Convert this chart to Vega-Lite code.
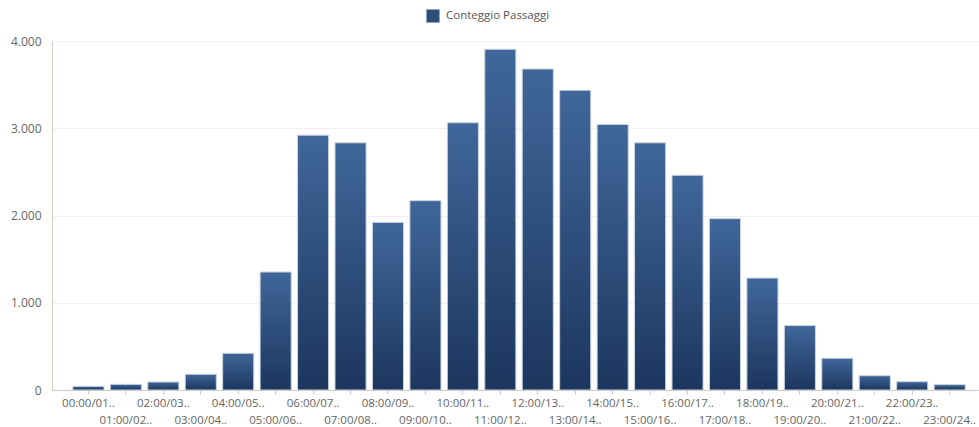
{
  "$schema": "https://vega.github.io/schema/vega-lite/v6.json",
  "autosize": "none",
  "width": 926,
  "height": 349,
  "padding": {"left": 52, "top": 41, "right": 1, "bottom": 37},
  "background": "white",
  "config": {
    "view": {"stroke": null},
    "locale": {"number": {"decimal": ",", "thousands": ".", "grouping": [3], "currency": ["€", ""]}},
    "font": "Open Sans"
  },
  "data": {
    "values": [
      {"fascia": "00:00/01:00", "passaggi": 42},
      {"fascia": "01:00/02:00", "passaggi": 65},
      {"fascia": "02:00/03:00", "passaggi": 92},
      {"fascia": "03:00/04:00", "passaggi": 180},
      {"fascia": "04:00/05:00", "passaggi": 421},
      {"fascia": "05:00/06:00", "passaggi": 1352},
      {"fascia": "06:00/07:00", "passaggi": 2920},
      {"fascia": "07:00/08:00", "passaggi": 2833},
      {"fascia": "08:00/09:00", "passaggi": 1921},
      {"fascia": "09:00/10:00", "passaggi": 2170},
      {"fascia": "10:00/11:00", "passaggi": 3063},
      {"fascia": "11:00/12:00", "passaggi": 3905},
      {"fascia": "12:00/13:00", "passaggi": 3679},
      {"fascia": "13:00/14:00", "passaggi": 3435},
      {"fascia": "14:00/15:00", "passaggi": 3043},
      {"fascia": "15:00/16:00", "passaggi": 2833},
      {"fascia": "16:00/17:00", "passaggi": 2461},
      {"fascia": "17:00/18:00", "passaggi": 1964},
      {"fascia": "18:00/19:00", "passaggi": 1283},
      {"fascia": "19:00/20:00", "passaggi": 738},
      {"fascia": "20:00/21:00", "passaggi": 364},
      {"fascia": "21:00/22:00", "passaggi": 164},
      {"fascia": "22:00/23:00", "passaggi": 95},
      {"fascia": "23:00/24:00", "passaggi": 61}
    ]
  },
  "encoding": {
    "x": {
      "field": "fascia",
      "type": "nominal",
      "sort": null,
      "title": null,
      "scale": {"paddingInner": 0.17, "paddingOuter": 0.45, "align": 0.62},
      "axis": {
        "labelAngle": 0,
        "labelOverlap": false,
        "labelBound": false,
        "labelExpr": "parseInt(substring(datum.value,0,2)) % 2 == 0 ? substring(datum.value,0,8) + '..' : ['', substring(datum.value,0,8) + '..']",
        "labelLineHeight": 17,
        "labelBaseline": "top",
        "labelPadding": 3,
        "labelFontSize": 11.5,
        "labelColor": "#666666",
        "labelFont": "Open Sans",
        "domainColor": "#cfcac0",
        "tickColor": "#cfcac0",
        "tickSize": 4,
        "grid": false
      }
    },
    "y": {
      "field": "passaggi",
      "type": "quantitative",
      "title": null,
      "scale": {"domain": [0, 4000], "nice": false},
      "axis": {
        "values": [0, 1000, 2000, 3000, 4000],
        "format": ",d",
        "labelFontSize": 12,
        "labelColor": "#666666",
        "labelFont": "Open Sans",
        "labelPadding": 11,
        "domainColor": "#cfcac0",
        "ticks": false,
        "gridColor": "#f0f0f0",
        "gridWidth": 1
      }
    }
  },
  "layer": [
    {
      "mark": {
        "type": "bar",
        "fill": {
          "gradient": "linear",
          "x1": 0, "y1": 0, "x2": 0, "y2": 1,
          "stops": [
            {"offset": 0, "color": "#40679a"},
            {"offset": 1, "color": "#1c365e"}
          ]
        },
        "stroke": "#c9d2dc",
        "strokeWidth": 1
      }
    },
    {
      "mark": {"type": "bar", "opacity": 0},
      "encoding": {
        "color": {
          "datum": "Conteggio Passaggi",
          "type": "nominal",
          "scale": {"range": ["#2d4d7a"]},
          "legend": {
            "title": null,
            "orient": "none",
            "legendX": 374,
            "legendY": -32,
            "padding": 0,
            "symbolType": "square",
            "symbolSize": 170,
            "symbolOpacity": 1,
            "symbolStrokeWidth": 0,
            "labelFontSize": 11.5,
            "labelColor": "#555555",
            "labelFont": "Open Sans",
            "labelOffset": 6
          }
        }
      }
    }
  ]
}
